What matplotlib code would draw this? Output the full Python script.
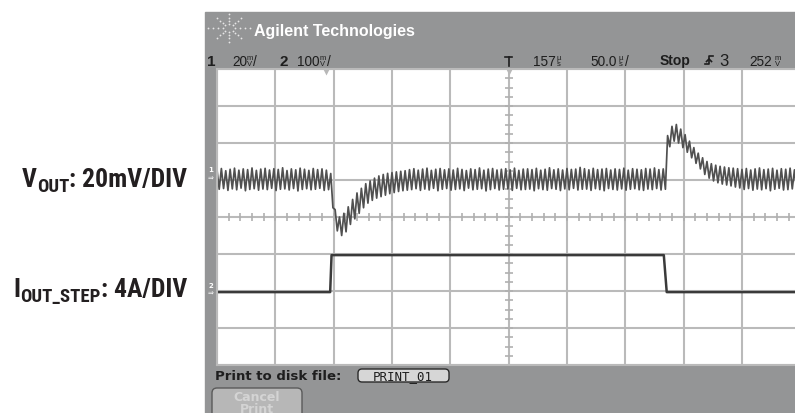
import numpy as np
import matplotlib
matplotlib.use("Agg")
import matplotlib.pyplot as plt
from matplotlib import font_manager as fm
from matplotlib.patches import Rectangle, FancyBboxPatch

# ---- scope settings -------------------------------------------------------
US_PER_DIV = 50.0          # time base
CH1_MV_PER_DIV = 20.0      # V_OUT
CH2_A_PER_DIV = 4.0        # I_OUT step
CH1_REF_DIV = 5.0          # screen position of 0 mV (divisions from bottom)
CH2_REF_DIV = 1.97         # screen position of 0 A
RIPPLE_PERIOD_US = 3.75

# ---- V_OUT ripple: peak / valley of each switching cycle (mV) -------------
vout_peak_mv = [
    5.5, 6.2, 5.0, 5.8, 6.4, 5.3, 6.0, 5.6, 6.5, 5.2, 5.9, 6.3, 5.4,
    6.1, 5.7, 6.6, 5.1, 6.0, 5.5, 6.4, 5.8, 5.2, 6.2, 5.6, 6.0, 5.3,
    # load step on
    3.5, -16.0, -20.0, -18.0, -14.5, -10.5, -7.0, -4.5, -2.0, -0.5,
    1.0, 2.2, 3.0, 3.6, 4.0, 4.4, 4.7, 5.0,
    5.6, 6.1, 5.3, 5.9, 6.4, 5.2, 5.8, 6.2, 5.5, 6.0, 5.4, 6.3, 5.7,
    5.1, 6.0, 5.6, 6.5, 5.3, 5.9, 6.2, 5.4, 5.8, 6.1, 5.5, 6.4, 5.2,
    5.9, 6.0, 5.6, 6.3, 5.3, 5.8, 6.6, 5.5, 6.0, 5.4, 6.2, 5.7, 5.9,
    6.8, 6.1, 5.5, 6.3, 5.6, 5.9, 6.2, 5.4, 6.0, 5.7, 6.4, 5.3, 6.1,
    5.8, 5.5, 6.2, 5.9, 6.5, 5.6, 6.0,
    # load step off
    24.0, 29.0, 30.0, 27.5, 24.5, 21.0, 17.5, 14.5, 12.0, 10.0, 8.8,
    8.0, 7.4, 7.0, 6.6, 6.4, 6.1,
    5.7, 6.2, 5.4, 6.0, 6.5, 5.6, 5.9, 6.3, 5.3, 6.1, 5.8, 6.4, 5.5, 6.0,
]
vout_valley_mv = [
    -5.0, -4.6, -5.6, -4.8, -5.3, -4.4, -5.8, -5.1, -4.7, -5.5, -4.9,
    -5.2, -4.5, -5.7, -5.0, -4.8, -5.4, -4.6, -5.9, -5.1, -4.7, -5.3,
    -5.0, -4.5, -5.6, -5.2,
    -15.0, -27.5, -30.0, -28.0, -24.0, -21.0, -18.0, -15.0, -12.5, -11.0,
    -9.8, -9.0, -8.2, -7.4, -6.8, -6.2, -5.8, -5.5,
    -5.2, -4.7, -5.6, -4.9, -5.4, -4.5, -5.8, -5.0, -4.6, -5.5, -5.1,
    -4.8, -5.7, -4.4, -5.3, -5.0, -4.7, -5.9, -5.2, -4.6, -5.4, -5.0,
    -4.8, -5.6, -4.5, -5.3, -5.1, -4.9, -5.8, -4.7, -5.2, -5.5, -4.6,
    -5.0, -5.7, -4.8, -5.3, -4.5, -5.4, -5.0, -4.9, -5.6, -4.7, -5.2,
    -5.8, -4.6, -5.1, -5.4, -4.8, -5.5, -5.0, -4.7, -5.3, -5.6, -4.9,
    -5.2, -4.6, -5.4, -5.0,
    18.0, 21.0, 20.0, 17.5, 15.0, 12.0, 9.0, 6.0, 3.0, 1.0, -0.5,
    -1.5, -2.2, -2.7, -3.2, -3.8, -4.3,
    -5.1, -4.6, -5.5, -4.9, -5.3, -4.7, -5.8, -5.0, -4.5, -5.4, -5.2,
    -4.8, -5.6, -5.0,
]

# ---- I_OUT step (A) --------------------------------------------------------
iout_t_us = [0.0, 97.0, 98.2, 383.0, 385.5, 500.0]
iout_a = [0.0, 0.0, 4.0, 4.0, 0.0, 0.0]

W, H = 795, 413
SCOPE_GRAY = "#949596"
TEXT_DARK = "#1e1e1e"

# condensed bold face for the side labels
names = {f.name for f in fm.fontManager.ttflist}
label_family = "DejaVu Sans"
for cand in ["Liberation Sans Narrow", "Roboto Condensed", "Open Sans Condensed",
             "Archivo Narrow", "Barlow Condensed"]:
    if cand in names:
        label_family = cand
        break

fig = plt.figure(figsize=(W / 100, H / 100), dpi=100)
fig.patch.set_facecolor("white")
bg = fig.add_axes([0, 0, 1, 1])
bg.set_xlim(0, W)
bg.set_ylim(H, 0)
bg.axis("off")

# scope panel
bg.add_patch(Rectangle((205, 12), 600, 420, color=SCOPE_GRAY, zorder=0))

# logo sparkle
for ang in np.arange(0, 360, 45):
    for r in (5, 9, 13, 17):
        sx = 1.25 if ang % 180 == 0 else 1.0
        bg.plot(229 + sx * r * np.cos(np.radians(ang)),
                28 + 0.8 * r * np.sin(np.radians(ang)),
                "o", ms=1.3, color="#e6e6e6", mec="none")
bg.text(254, 36, "Agilent Technologies", color="white", fontsize=11.5,
        fontweight="bold", family="Liberation Sans", va="baseline")

# channel / timebase line
scope_font = dict(family="Liberation Sans", color=TEXT_DARK, va="baseline")


def stacked(x, top, bot):
    bg.text(x, 59.5, top, fontsize=5.5, ha="center", **scope_font)
    bg.text(x, 65.5, bot, fontsize=5.5, ha="center", **scope_font)


bg.text(207, 65.5, "1", fontsize=11, fontweight="bold", **scope_font)
bg.text(232, 65.5, "20", fontsize=9.8, **scope_font)
stacked(249.5, "m", "V")
bg.text(253, 65.5, "/", fontsize=9.8, **scope_font)
bg.text(280, 65.5, "2", fontsize=11, fontweight="bold", **scope_font)
bg.text(297, 65.5, "100", fontsize=9.8, **scope_font)
stacked(323, "m", "V")
bg.text(327, 65.5, "/", fontsize=9.8, **scope_font)
bg.plot([505, 512], [57, 57], color=TEXT_DARK, lw=1.2)
bg.plot([509, 509], [57, 66], color=TEXT_DARK, lw=1.2)
bg.text(533, 65.5, "157", fontsize=9.8, **scope_font)
stacked(558.5, "\u00b5", "s")
bg.text(590, 65.5, "50.0", fontsize=9.8, **scope_font)
stacked(620.5, "\u00b5", "s")
bg.text(625, 65.5, "/", fontsize=9.8, **scope_font)
bg.text(660, 65.5, "Stop", fontsize=10, fontweight="bold", **scope_font)
bg.plot([705, 709, 709, 713], [64, 64, 56, 56], color=TEXT_DARK, lw=1.2)
bg.plot([706.5, 709, 711.5], [61.5, 59, 61.5], color=TEXT_DARK, lw=1.2)
bg.text(719, 66, "3", fontsize=12, **scope_font)
bg.text(749, 65.5, "252", fontsize=9.8, **scope_font)
stacked(777.5, "m", "V")

# bottom softkey area
bg.text(215, 380.5, "Print to disk file:", fontsize=9.5, fontweight="bold",
        family="DejaVu Sans", color=TEXT_DARK, va="baseline")
bg.add_patch(FancyBboxPatch((358, 369), 91, 13, boxstyle="round,pad=0,rounding_size=4",
                            fc="#d6d6d6", ec="#2a2a2a", lw=1.0))
bg.text(403, 380, "PRINT_01", fontsize=9, family="DejaVu Sans Mono",
        color=TEXT_DARK, ha="center", va="baseline")
bg.add_patch(FancyBboxPatch((212, 388), 90, 40, boxstyle="round,pad=0,rounding_size=5",
                            fc="#b7b7b7", ec="#5a5a5a", lw=1.0))
bg.text(257, 401, "Cancel", fontsize=9, fontweight="bold", family="DejaVu Sans",
        color="#d4d4d4", ha="center", va="baseline")
bg.text(257, 413, "Print", fontsize=9, fontweight="bold", family="DejaVu Sans",
        color="#d4d4d4", ha="center", va="baseline")

# channel markers on the left border
for ych, lab in ((175, "1"), (290, "2")):
    bg.text(210.5, ych - 4.5, lab, fontsize=5, color="white", ha="center",
            va="center", fontweight="bold")
    bg.text(210.5, ych + 3.5, "\u21d2", fontsize=5, color="white", ha="center",
            va="center")

# side labels with subscripts
renderer = fig.canvas.get_renderer()
lab_kw = dict(family=label_family, fontweight="bold", color="#231f20",
              va="baseline")


def side_label(x_right, y_base, main, sub, tail):
    t = bg.text(x_right, y_base, tail, ha="right", fontsize=18.5, **lab_kw)
    x0 = bg.transData.inverted().transform(t.get_window_extent(renderer).p0)[0]
    t = bg.text(x0, y_base + 5, sub, ha="right", fontsize=13.5, **lab_kw)
    x0 = bg.transData.inverted().transform(t.get_window_extent(renderer).p0)[0]
    bg.text(x0, y_base, main, ha="right", fontsize=18.5, **lab_kw)


side_label(187, 187, "V", "OUT", ": 20mV/DIV")
side_label(187, 297, "I", "OUT_STEP", ": 4A/DIV")

# ---- graticule -------------------------------------------------------------
ax = fig.add_axes([217 / W, 48 / H, 583.3 / W, 296 / H])
ax.set_xlim(0, 10)
ax.set_ylim(0, 8)
ax.set_facecolor("white")
ax.set_xticks(range(11))
ax.set_yticks(range(9))
ax.tick_params(length=0, labelbottom=False, labelleft=False)
ax.grid(True, color="#bababa", lw=1.5)
for s in ax.spines.values():
    s.set_color("#bababa")
    s.set_linewidth(1.5)
ax.plot(np.full(33, 5.0), np.arange(33) * 0.25, "_", ms=6, mew=1.2, color="#b0b0b0")
ax.plot(np.arange(51) * 0.2, np.full(51, 4.0), "|", ms=6, mew=1.2, color="#b0b0b0")
ax.plot([1.87, 5.0], [7.93, 7.93], "v", ms=5, color="#b8b8b8", mec="none")

# V_OUT trace: alternate peak / valley each half cycle
peaks = np.asarray(vout_peak_mv)
valleys = np.asarray(vout_valley_mv)
t_cycle = np.arange(len(peaks)) * RIPPLE_PERIOD_US
t_v = np.column_stack([t_cycle, t_cycle + RIPPLE_PERIOD_US / 2]).ravel()
mv = np.column_stack([peaks, valleys]).ravel()
ax.plot(t_v / US_PER_DIV, CH1_REF_DIV + mv / CH1_MV_PER_DIV, color="#505050", lw=1.25)

# I_OUT trace
ax.plot(np.asarray(iout_t_us) / US_PER_DIV,
        CH2_REF_DIV + np.asarray(iout_a) / CH2_A_PER_DIV, color="#3a3a3a", lw=1.8)

fig.savefig("out.png", dpi=100)
